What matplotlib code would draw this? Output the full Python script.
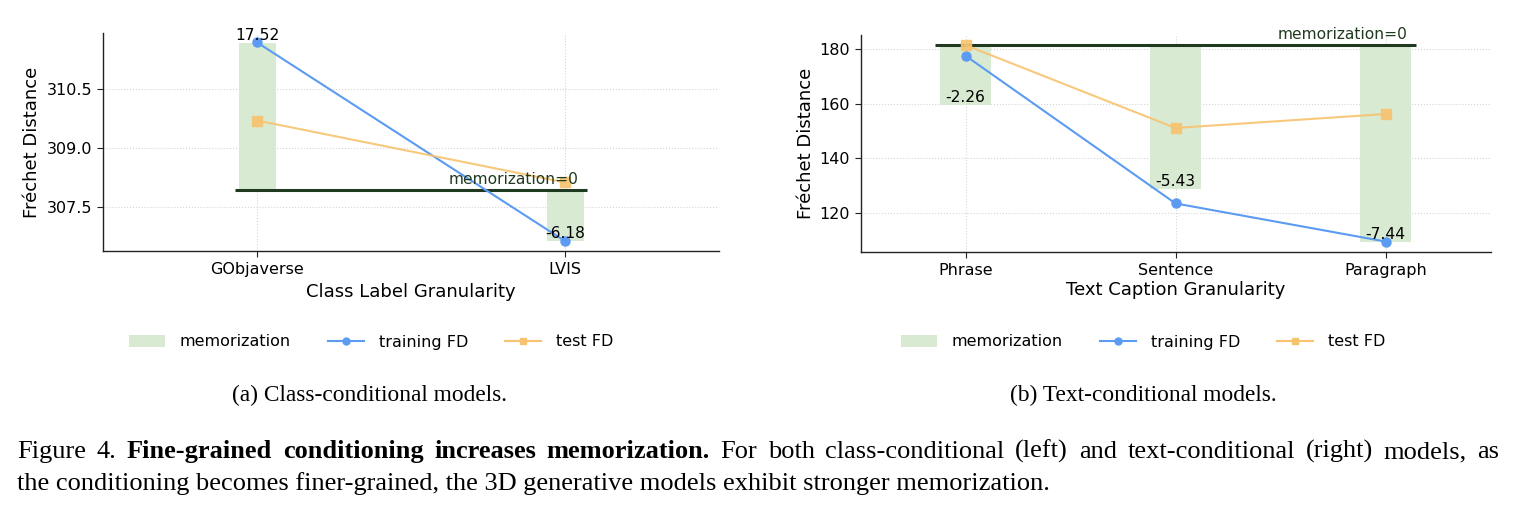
import numpy as np
import matplotlib.pyplot as plt
from matplotlib.patches import Patch
from matplotlib.lines import Line2D

W, H = 1516, 514

# (a) class-conditional models
class_labels = ['GObjaverse', 'LVIS']
class_train_fd = [311.67, 306.63]
class_test_fd = [309.69, 308.12]
class_memorization = [17.52, -6.18]
class_zero_fd = 307.94
class_bar_scale = 0.2128
class_yticks = [307.5, 309.0, 310.5]

# (b) text-conditional models
text_labels = ['Phrase', 'Sentence', 'Paragraph']
text_train_fd = [177.45, 123.6, 109.7]
text_test_fd = [181.3, 151.1, 156.2]
text_memorization = [-2.26, -5.43, -7.44]
text_zero_fd = 181.3
text_bar_scale = 9.63
text_yticks = [120, 140, 160, 180]

caption_line1 = [('Figure', 'normal'), ('4.', 'normal'),
                 ('Fine-grained', 'bold'), ('conditioning', 'bold'),
                 ('increases', 'bold'), ('memorization.', 'bold'),
                 ('For', 'normal'), ('both', 'normal'), ('class-conditional', 'normal'),
                 ('(left)', 'normal'), ('and', 'normal'), ('text-conditional', 'normal'),
                 ('(right)', 'normal'), ('models,', 'normal'), ('as', 'normal')]
caption_line2 = 'the conditioning becomes finer-grained, the 3D generative models exhibit stronger memorization.'

BAR_C = '#d9ead3'
TRAIN_C = '#5b9bf2'
TEST_C = '#f7c36f'
ZERO_C = '#1f3a1f'
SERIF = 'Liberation Serif'


def draw_panel(ax, labels, train, test, mem, zero, scale, bar_w, xlabel, yticks, ylim, fmt):
    x = np.arange(len(labels))
    heights = np.array(mem) * scale
    ax.bar(x, heights, bar_w, bottom=zero, color=BAR_C, zorder=1)
    ext = bar_w * 0.6
    ax.hlines(zero, x[0] - ext, x[-1] + ext, color=ZERO_C, lw=2.2, zorder=2)
    ax.plot(x, train, color=TRAIN_C, marker='o', ms=6.5, lw=1.5, zorder=3)
    ax.plot(x, test, color=TEST_C, marker='s', ms=6.5, lw=1.5, alpha=0.9, zorder=3)
    for xi, h, m in zip(x, heights, mem):
        ax.text(xi, zero + h, f'{m:.2f}', ha='center', va='bottom', fontsize=11.2, zorder=4)
    ax.annotate('memorization=0', (x[-1] + ext, zero), xytext=(-6, 2),
                textcoords='offset points', ha='right', va='bottom',
                color=ZERO_C, fontsize=11.2, zorder=4)

    ax.set_xlim(-0.5, len(labels) - 0.5)
    ax.set_ylim(*ylim)
    ax.set_xticks(x)
    ax.set_xticklabels(labels)
    ax.set_yticks(yticks)
    ax.set_yticklabels([fmt % v for v in yticks])
    ax.set_xlabel(xlabel, fontsize=13)
    ax.set_ylabel('Fréchet Distance', fontsize=13)
    ax.xaxis.label.set_verticalalignment('center')
    ax.yaxis.label.set_verticalalignment('center')
    ax.grid(True, ls=':', color='#d5d5d5', lw=0.8)
    ax.set_axisbelow(True)
    for s in ['top', 'right']:
        ax.spines[s].set_visible(False)
    for s in ['left', 'bottom']:
        ax.spines[s].set_color('#222222')
        ax.spines[s].set_linewidth(1.0)
    ax.tick_params(labelsize=11.5, length=4, width=0.8, color='#222222', pad=4)


fig = plt.figure(figsize=(W / 100, H / 100), dpi=100)

ax1 = fig.add_axes([103.2 / W, 1 - 251 / H, (719 - 103.2) / W, (251 - 33) / H])
draw_panel(ax1, class_labels, class_train_fd, class_test_fd, class_memorization,
           class_zero_fd, class_bar_scale, 0.12, 'Class Label Granularity',
           class_yticks, (306.38, 311.91), '%.1f')
ax1.xaxis.set_label_coords(0.5, -0.187)
ax1.yaxis.set_label_coords(-0.1156, 0.5)

ax2 = fig.add_axes([860.5 / W, 1 - 251.7 / H, (1490.5 - 860.5) / W, (251.7 - 35) / H])
draw_panel(ax2, text_labels, text_train_fd, text_test_fd, text_memorization,
           text_zero_fd, text_bar_scale, 0.24, 'Text Caption Granularity',
           text_yticks, (106, 185), '%d')
ax2.xaxis.set_label_coords(0.5, -0.177)
ax2.yaxis.set_label_coords(-0.0868, 0.5)

# legends under each panel
handles = [Patch(facecolor=BAR_C, edgecolor='none'),
           Line2D([], [], color=TRAIN_C, marker='o', ms=5, lw=1.5),
           Line2D([], [], color=TEST_C, marker='s', ms=5, lw=1.5)]
names = ['memorization', 'training FD', 'test FD']
for cx in [371, 1143]:
    fig.legend(handles, names, loc='center', bbox_to_anchor=(cx / W, 1 - 342 / H),
               ncol=3, frameon=False, fontsize=11.5, handlelength=2.25,
               handletextpad=0.95, columnspacing=2.3)

# sub-captions
fig.text(370 / W, 1 - 401 / H, '(a) Class-conditional models.', ha='center',
         va='baseline', fontsize=16.8, family=SERIF)
fig.text(1143.5 / W, 1 - 401 / H, '(b) Text-conditional models.', ha='center',
         va='baseline', fontsize=16.8, family=SERIF)

# figure caption, first line justified
x_left, x_right = 17, 1499
y1 = 1 - 458 / H
words = [fig.text(0, y1, w, fontsize=19, fontweight=wt, family=SERIF, va='baseline')
         for w, wt in caption_line1]
r = fig.canvas.get_renderer()
widths = [t.get_window_extent(r).width for t in words]
gap = (x_right - x_left - sum(widths)) / (len(words) - 1)
xpos = x_left
for t, w in zip(words, widths):
    t.set_x(xpos / W)
    xpos += w + gap
fig.text(x_left / W, 1 - 490 / H, caption_line2, fontsize=19, family=SERIF, va='baseline')

fig.savefig('out.png', dpi=100)
